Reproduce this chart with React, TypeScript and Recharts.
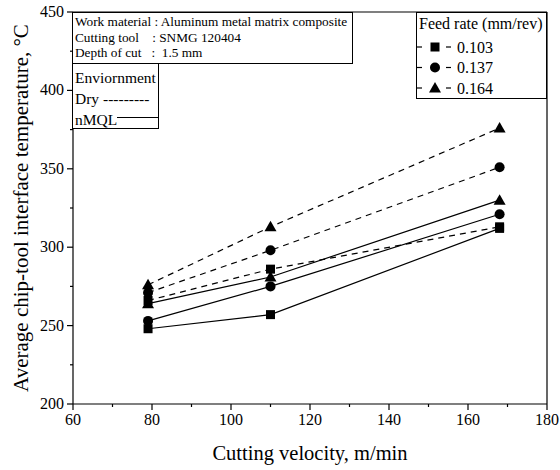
import React from "react";
import { LineChart, Line, XAxis, YAxis, ReferenceLine } from "recharts";

const velocity = [79, 110, 168];
const dry103 = [266, 286, 313];
const dry137 = [271, 298, 351];
const dry164 = [276, 313, 376];
const mql103 = [248, 257, 312];
const mql137 = [253, 275, 321];
const mql164 = [264, 281, 330];

const xTicks = [60, 70, 80, 90, 100, 110, 120, 130, 140, 150, 160, 170, 180];
const yTicks = [200, 225, 250, 275, 300, 325, 350, 375, 400, 425, 450];
const feedRates = ["0.103", "0.137", "0.164"];

const FONT = "Times New Roman, Liberation Serif, Tinos, DejaVu Serif, serif";

const data = velocity.map((v, i) => ({
  v,
  dry103: dry103[i],
  dry137: dry137[i],
  dry164: dry164[i],
  mql103: mql103[i],
  mql137: mql137[i],
  mql164: mql164[i],
}));

function Marker({ kind, cx, cy }: { kind: string; cx: number; cy: number }) {
  if (kind === "square") return <rect x={cx - 4.5} y={cy - 4.5} width={9} height={9} fill="#000" />;
  if (kind === "circle") return <circle cx={cx} cy={cy} r={5} fill="#000" />;
  return <polygon points={`${cx},${cy - 6} ${cx + 6},${cy + 4.5} ${cx - 6},${cy + 4.5}`} fill="#000" />;
}

const dot = (kind: string) => (p: any) => <Marker key={p.index} kind={kind} cx={p.cx} cy={p.cy} />;

function XTick({ x, y, payload }: any) {
  const major = payload.value % 20 === 0;
  return (
    <g>
      <line x1={x} x2={x} y1={y - 8} y2={y - 8 + (major ? 6 : 3)} stroke="#000" strokeWidth={1.2} />
      {major && (
        <text x={x} y={y + 13} textAnchor="middle" fontSize={16} style={{ fontFamily: FONT }} fill="#000">
          {payload.value}
        </text>
      )}
    </g>
  );
}

function YTick({ x, y, payload }: any) {
  const major = payload.value % 50 === 0;
  return (
    <g>
      <line x1={x + 8} x2={x + 8 - (major ? 6 : 3)} y1={y} y2={y} stroke="#000" strokeWidth={1.2} />
      {major && (
        <text x={x - 1} y={y + 5} textAnchor="end" fontSize={16} style={{ fontFamily: FONT }} fill="#000">
          {payload.value}
        </text>
      )}
    </g>
  );
}

function FeedLegend() {
  const kinds = ["square", "circle", "triangle"];
  return (
    <svg width={131} height={87} style={{ display: "block", position: "absolute", left: 416, top: 12 }}>
      <rect x={0.5} y={0.5} width={130} height={86} fill="#fff" stroke="#000" />
      <text x={3} y={17} fontSize={16} style={{ fontFamily: FONT }}>Feed rate (mm/rev)</text>
      {feedRates.map((f, i) => {
        const cy = 35 + i * 20.5;
        return (
          <g key={f}>
            <line x1={1} x2={6} y1={cy} y2={cy} stroke="#000" strokeWidth={1.2} />
            <Marker kind={kinds[i]} cx={19} cy={cy} />
            <line x1={30} x2={35} y1={cy} y2={cy} stroke="#000" strokeWidth={1.2} />
            <text x={41} y={cy + 5.5} fontSize={16} style={{ fontFamily: FONT }}>{f}</text>
          </g>
        );
      })}
    </svg>
  );
}

const boxText: React.CSSProperties = { fontFamily: FONT, color: "#000", whiteSpace: "nowrap" };

export default function App() {
  return (
    <div style={{ position: "absolute", left: 0, top: 0, width: 560, height: 470, background: "#fff", fontFamily: FONT }}>
      <LineChart width={560} height={470} data={data} margin={{ top: 12, right: 13, left: 13, bottom: 26 }}>
        <XAxis
          dataKey="v"
          type="number"
          domain={[60, 180]}
          ticks={xTicks}
          interval={0}
          tickLine={false}
          tick={<XTick />}
          height={40}
          axisLine={{ stroke: "#000", strokeWidth: 1.2 }}
          label={{ value: "Cutting velocity, m/min", position: "insideBottom", offset: -16, fontSize: 20.5, style: { fontFamily: FONT }, fill: "#000" }}
        />
        <YAxis
          type="number"
          domain={[200, 450]}
          ticks={yTicks}
          interval={0}
          tickLine={false}
          tick={<YTick />}
          width={60}
          axisLine={{ stroke: "#000", strokeWidth: 1.2 }}
          label={{ value: "Average chip-tool interface temperature, °C", angle: -90, position: "insideLeft", offset: 0, dx: 8, fontSize: 21, fill: "#000", style: { textAnchor: "middle", fontFamily: FONT } }}
        />
        <ReferenceLine y={450} stroke="#000" strokeWidth={1.2} />
        <ReferenceLine x={180} stroke="#000" strokeWidth={1.2} />
        <Line dataKey="dry103" stroke="#000" strokeWidth={1.2} strokeDasharray="6 5" dot={dot("square")} isAnimationActive={false} />
        <Line dataKey="dry137" stroke="#000" strokeWidth={1.2} strokeDasharray="6 5" dot={dot("circle")} isAnimationActive={false} />
        <Line dataKey="dry164" stroke="#000" strokeWidth={1.2} strokeDasharray="6 5" dot={dot("triangle")} isAnimationActive={false} />
        <Line dataKey="mql103" stroke="#000" strokeWidth={1.2} dot={dot("square")} isAnimationActive={false} />
        <Line dataKey="mql137" stroke="#000" strokeWidth={1.2} dot={dot("circle")} isAnimationActive={false} />
        <Line dataKey="mql164" stroke="#000" strokeWidth={1.2} dot={dot("triangle")} isAnimationActive={false} />
      </LineChart>
      <FeedLegend />
      <div
        style={{
          ...boxText,
          position: "absolute",
          left: 72,
          top: 12,
          width: 281,
          height: 52,
          border: "1px solid #000",
          background: "#fff",
          fontSize: 13.3,
          lineHeight: "15.5px",
          padding: "1px 0 0 2px",
          boxSizing: "border-box",
        }}
      >
        <div>Work material : Aluminum metal matrix composite</div>
        <div>Cutting tool&nbsp;&nbsp;&nbsp;&nbsp;: SNMG 120404</div>
        <div>Depth of cut&nbsp;&nbsp;&nbsp;:&nbsp; 1.5 mm</div>
      </div>
      <div
        style={{
          ...boxText,
          position: "absolute",
          left: 72,
          top: 63,
          width: 87,
          height: 66,
          border: "1px solid #000",
          background: "#fff",
          fontSize: 15.5,
          lineHeight: "21px",
          padding: "3px 0 0 2px",
          boxSizing: "border-box",
        }}
      >
        <div>Enviornment</div>
        <div>Dry ---------</div>
        <div style={{ display: "flex", alignItems: "center" }}>
          nMQL<span style={{ display: "inline-block", flex: 1, borderTop: "1.5px solid #000", marginTop: -4 }} />
        </div>
      </div>
    </div>
  );
}
